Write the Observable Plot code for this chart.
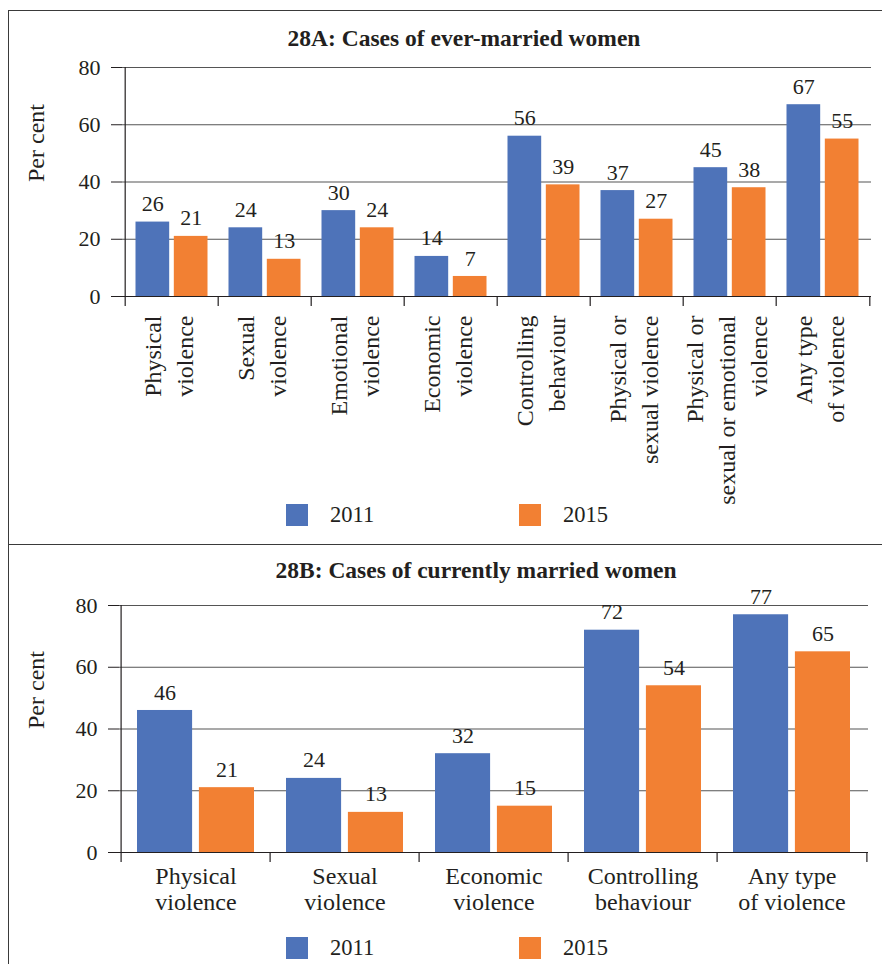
<!DOCTYPE html>
<html>
<head>
<meta charset="utf-8">
<script src="https://cdn.jsdelivr.net/npm/d3@7"></script>
<script src="https://cdn.jsdelivr.net/npm/@observablehq/plot@0.6"></script>
<style>
  html, body { margin: 0; padding: 0; background: #fff; }
  body { width: 882px; height: 964px; position: relative; overflow: hidden;
         font-family: "Liberation Serif", "DejaVu Serif", serif; color: #231f20; }
  .box { position: absolute; left: 8px; top: 10px; width: 920px; height: 1000px;
         border-left: 1.5px solid #3a3a3a; border-top: 1.5px solid #3a3a3a; }
  .divider { position: absolute; left: 8px; top: 544px; width: 920px; border-top: 1.5px solid #3a3a3a; }
  .title { position: absolute; transform: translateX(-50%); white-space: nowrap;
           font-weight: bold; font-size: 23.5px; line-height: 23.5px; }
  .chart { position: absolute; left: 0; }
  .legend { position: absolute; left: 0; width: 882px; height: 22px; }
  .legend .sw { position: absolute; top: 0; width: 22px; height: 22px; }
  .legend .lab { position: absolute; top: 0; font-size: 22.5px; line-height: 22px; }
</style>
</head>
<body>
<div class="box"></div>
<div class="divider"></div>
<div id="root"></div>
<script>
// Survey years and colours
const years = ["2011", "2015"];
const yearColors = ["#4e73b9", "#f28033"];
const yTicks = [0, 20, 40, 60, 80];

// 28A: ever-married women
const titleA = "28A: Cases of ever-married women";
const categoriesA = [
  "Physical\nviolence",
  "Sexual\nviolence",
  "Emotional\nviolence",
  "Economic\nviolence",
  "Controlling\nbehaviour",
  "Physical or\nsexual violence",
  "Physical or\nsexual or emotional\nviolence",
  "Any type\nof violence"
];
const values2011A = [26, 24, 30, 14, 56, 37, 45, 67];
const values2015A = [21, 13, 24, 7, 39, 27, 38, 55];

// 28B: currently married women
const titleB = "28B: Cases of currently married women";
const categoriesB = [
  "Physical\nviolence",
  "Sexual\nviolence",
  "Economic\nviolence",
  "Controlling\nbehaviour",
  "Any type\nof violence"
];
const values2011B = [46, 24, 32, 72, 77];
const values2015B = [21, 13, 15, 54, 65];

const ink = "#231f20";
const gridInk = "#555";
const wordSize = 24;
const digitSize = 22;
const root = document.getElementById("root");

function addTitle(text, cx, top) {
  const d = document.createElement("div");
  d.className = "title";
  d.textContent = text;
  d.style.left = cx + "px";
  d.style.top = top + "px";
  root.appendChild(d);
}

function addLegend(top, swatchX) {
  const lg = document.createElement("div");
  lg.className = "legend";
  lg.style.top = top + "px";
  years.forEach((yr, i) => {
    const sw = document.createElement("div");
    sw.className = "sw";
    sw.style.left = swatchX[i] + "px";
    sw.style.background = yearColors[i];
    const lab = document.createElement("div");
    lab.className = "lab";
    lab.style.left = (swatchX[i] + 44) + "px";
    lab.textContent = yr;
    lg.appendChild(sw);
    lg.appendChild(lab);
  });
  root.appendChild(lg);
}

function panel(cfg) {
  const {categories, series, top, width, height, margin, outerPad, gap, rotated} = cfg;
  const n = categories.length;
  const step = (width - margin.left - margin.right) / n;
  const barW = (step - 2 * outerPad - gap) / 2;
  const rows = [];
  categories.forEach((c, i) => years.forEach((yr, k) => rows.push({cat: c, year: yr, value: series[k][i]})));

  const barMarks = years.map((yr, k) => Plot.barY(rows.filter(r => r.year === yr), {
    x: "cat", y: "value", fill: "year",
    insetLeft: k === 0 ? outerPad : outerPad + barW + gap,
    insetRight: k === 0 ? outerPad + barW + gap : outerPad
  }));
  const valueMarks = years.map((yr, k) => Plot.text(rows.filter(r => r.year === yr), {
    x: "cat", y: "value", text: d => String(d.value),
    dx: (k === 0 ? -1 : 1) * (barW + gap) / 2, dy: -18,
    fontSize: digitSize, fill: ink
  }));

  const catLabels = rotated
    ? Plot.text(categories, {x: d => d, frameAnchor: "bottom", text: d => d, rotate: -90,
        textAnchor: "end", lineAnchor: "middle", lineHeight: 1.32, dx: -5, dy: 19,
        fontSize: wordSize, fill: ink})
    : Plot.text(categories, {x: d => d, frameAnchor: "bottom", text: d => d,
        textAnchor: "middle", lineAnchor: "top", lineHeight: 1.05, dy: 14,
        fontSize: wordSize, fill: ink});

  const chart = Plot.plot({
    width, height,
    marginTop: margin.top, marginBottom: margin.bottom,
    marginLeft: margin.left, marginRight: margin.right,
    style: {fontFamily: "'Liberation Serif', 'DejaVu Serif', serif", fontSize: digitSize + "px",
            color: ink, background: "transparent", overflow: "visible"},
    x: {type: "band", domain: categories, padding: 0, axis: null},
    y: {domain: [0, 80], nice: false, axis: null},
    color: {domain: years, range: yearColors},
    marks: [
      Plot.gridY(yTicks, {stroke: gridInk, strokeOpacity: 1, strokeWidth: 1.2}),
      ...barMarks,
      ...valueMarks,
      Plot.axisY({ticks: yTicks, tickSize: 11, tickPadding: 11, fontSize: digitSize, label: null,
                  stroke: ink, fill: ink}),
      Plot.ruleY([0], {stroke: ink, strokeWidth: 1.2}),
      // vertical axis line, extended below the baseline like the category ticks
      Plot.ruleX(categories.slice(0, 1), {x: d => d, y1: 80, y2: 0, dx: -step / 2,
                  insetBottom: -10, stroke: ink, strokeWidth: 1.2}),
      // category boundary ticks
      Plot.ruleX(categories.slice(1), {x: d => d, y1: 0, y2: 0, dx: -step / 2,
                  insetBottom: -10, stroke: ink, strokeWidth: 1.2}),
      Plot.ruleX(categories.slice(-1), {x: d => d, y1: 0, y2: 0, dx: step / 2,
                  insetBottom: -10, stroke: ink, strokeWidth: 1.2}),
      catLabels,
      Plot.text(["Per cent"], {frameAnchor: "left", text: d => d, rotate: -90,
                  dx: -(margin.left - 36), fontSize: wordSize, fill: ink})
    ]
  });
  chart.classList.add("chart");
  chart.style.top = top + "px";
  root.appendChild(chart);
}

addTitle(titleA, 464, 27);
panel({
  categories: categoriesA, series: [values2011A, values2015A],
  top: 50, width: 882, height: 470,
  margin: {top: 17, bottom: 224, left: 122, right: 11},
  outerPad: 10.5, gap: 4, rotated: true
});
addLegend(504, [286, 519]);

addTitle(titleB, 476, 559);
panel({
  categories: categoriesB, series: [values2011B, values2015B],
  top: 590, width: 882, height: 335,
  margin: {top: 15, bottom: 73, left: 119, right: 14},
  outerPad: 16, gap: 6, rotated: false
});
addLegend(937, [286, 519]);
</script>
</body>
</html>
